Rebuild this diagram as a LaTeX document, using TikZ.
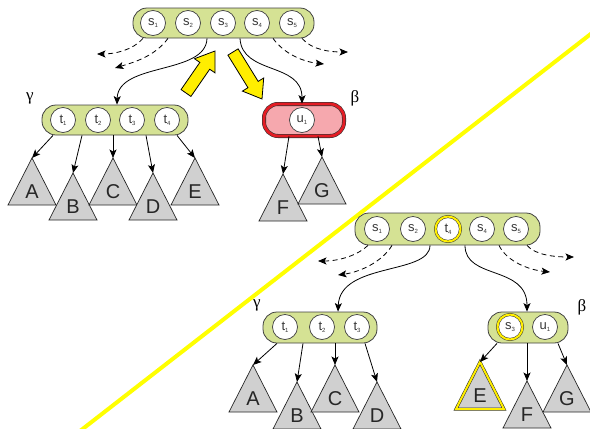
\documentclass[tikz,border=0pt]{standalone}
\usepackage{fontspec}
\setmainfont{Liberation Sans}
\newfontfamily\grkfont{Liberation Serif}
\usetikzlibrary{calc,arrows.meta}
\definecolor{boxgreen}{RGB}{213,226,148}
\definecolor{boxpink}{RGB}{246,168,174}
\definecolor{boxred}{RGB}{228,28,36}
\definecolor{trigray}{RGB}{208,208,208}
\definecolor{ylw}{RGB}{255,238,0}
\definecolor{diagylw}{RGB}{255,255,0}
\definecolor{labgray}{RGB}{55,55,55}
\newcommand{\klab}[2]{{\fontsize{13}{13}\selectfont #1}\raisebox{-2.2pt}{\fontsize{6}{6}\selectfont #2}}
\newcommand{\mytri}[5][trishape]{%
  \coordinate (#2) at (#3,#4);
  \draw[#1] (#2) -- ++(-24,47) -- ++(48,0) -- cycle;
  \node[trilab] (#2l) at ($(#2)+(0,34)$) {#5};
}
\tikzset{
  gbox/.style={rectangle, rounded corners=14pt, draw=black!75, line width=0.8pt, fill=boxgreen, inner sep=0pt},
  pbox/.style={rectangle, rounded corners=14pt, draw=black!80, line width=0.6pt, double=boxred, double distance=2.8pt, fill=boxpink, inner sep=0pt},
  kcirc/.style={circle, draw=black!75, line width=0.7pt, fill=white, minimum size=25pt, inner sep=0pt, text=labgray},
  hkcirc/.style={kcirc, draw=black!80, line width=0.5pt, double=ylw, double distance=2pt},
  trishape/.style={draw=black!85, line width=0.7pt, fill=trigray, line join=miter},
  hitrishape/.style={trishape, line width=0.5pt, double=ylw, double distance=2pt},
  trilab/.style={font=\fontsize{20}{20}\selectfont, text=black!85, inner sep=0pt},
  conn/.style={line width=0.8pt, -{Stealth[length=8.5pt,width=7pt,inset=2pt]}},
  dconn/.style={conn, dash pattern=on 5pt off 3.5pt},
  greeklab/.style={font=\grkfont\fontsize{17}{17}\selectfont, inner sep=0pt},
  yarr/.style={fill=ylw, draw=black, line width=0.8pt, line join=miter},
}
\begin{document}
\begin{tikzpicture}[x=1pt,y=-1pt]
\useasboundingbox (0,0) rectangle (590,429);
% diagonal
\draw[diagylw, line width=4pt] (80,431) -- (592,33);

% ===== top (before) =====
\node[gbox, minimum width=181pt, minimum height=30pt] (top) at (223.5,23) {};
\node[kcirc] (ts1) at (153,23) {\klab{s}{1}};
\node[kcirc] (ts2) at (188,23) {\klab{s}{2}};
\node[kcirc] (ts3) at (223,23) {\klab{s}{3}};
\node[kcirc] (ts4) at (257,23) {\klab{s}{4}};
\node[kcirc] (ts5) at (292,23) {\klab{s}{5}};

\node[gbox, minimum width=146pt, minimum height=30pt] (tg) at (115,120) {};
\node[kcirc] (tt1) at (63,120) {\klab{t}{1}};
\node[kcirc] (tt2) at (98,120) {\klab{t}{2}};
\node[kcirc] (tt3) at (132,120) {\klab{t}{3}};
\node[kcirc] (tt4) at (167,120) {\klab{t}{4}};
\node[greeklab] (tgl) at (30,98) {γ};

\node[pbox, minimum width=80pt, minimum height=32pt] (tb) at (304,120) {};
\node[kcirc] (tu1) at (302,120) {\klab{u}{1}};
\node[greeklab] (tbl) at (355,98) {β};

\mytri{tA}{32}{158}{A}
\mytri{tB}{73}{173}{B}
\mytri{tC}{113}{158}{C}
\mytri{tD}{153}{173}{D}
\mytri{tE}{195}{158}{E}
\mytri{tF}{283}{174}{F}
\mytri{tG}{322}{157}{G}

\draw[conn] (53,0 |- tg.south) -- (tA);
\draw[conn] (82,0 |- tg.south) -- (tB);
\draw[conn] (113,0 |- tg.south) -- (tC);
\draw[conn] (146,0 |- tg.south) -- (tD);
\draw[conn] (177,0 |- tg.south) -- (tE);
\draw[conn] (289,0 |- tb.south) -- (tF);
\draw[conn] (318,0 |- tb.south) -- (tG);

\draw[conn] (207,0 |- top.south) .. controls (206,75) and (118,62) .. (117,0 |- tg.north);
\draw[conn] (240,0 |- top.south) .. controls (242,75) and (302,62) .. (302,0 |- tb.north);
\draw[dconn] (143,0 |- top.south) .. controls (133,50) and (115,54) .. (97,54);
\draw[dconn] (168,0 |- top.south) .. controls (155,56) and (135,62) .. (115,68);
\draw[dconn] (273,0 |- top.south) .. controls (285,55) and (305,62) .. (324,64);
\draw[dconn] (302,0 |- top.south) .. controls (312,50) and (330,52) .. (348,52);

% yellow block arrows
\coordinate (uaT) at (186,93); \coordinate (uaP) at (215,51);
\coordinate (uaH) at ($(uaP)!18pt!(uaT)$);
\draw[yarr] ($(uaT)!6pt!90:(uaP)$) -- ($(uaH)!6pt!90:(uaP)$) -- ($(uaH)!12.5pt!90:(uaP)$) -- (uaP)
  -- ($(uaH)!12.5pt!-90:(uaP)$) -- ($(uaH)!6pt!-90:(uaP)$) -- ($(uaT)!6pt!-90:(uaP)$) -- cycle;
\coordinate (daT) at (233,52); \coordinate (daP) at (262,99);
\coordinate (daH) at ($(daP)!17pt!(daT)$);
\draw[yarr] ($(daT)!6pt!90:(daP)$) -- ($(daH)!6pt!90:(daP)$) -- ($(daH)!12.5pt!90:(daP)$) -- (daP)
  -- ($(daH)!12.5pt!-90:(daP)$) -- ($(daH)!6pt!-90:(daP)$) -- ($(daT)!6pt!-90:(daP)$) -- cycle;

% ===== bottom (after) =====
\node[gbox, minimum width=185pt, minimum height=32pt] (bt) at (447.5,229) {};
\node[kcirc] (bs1) at (377,229) {\klab{s}{1}};
\node[kcirc] (bs2) at (413,229) {\klab{s}{2}};
\node[hkcirc] (bt4) at (448,229) {\klab{t}{4}};
\node[kcirc] (bs4) at (482,229) {\klab{s}{4}};
\node[kcirc] (bs5) at (516,229) {\klab{s}{5}};

\node[gbox, minimum width=114pt, minimum height=31pt] (bg) at (320,327.5) {};
\node[kcirc] (bt1) at (285,327) {\klab{t}{1}};
\node[kcirc] (bt2) at (322,327) {\klab{t}{2}};
\node[kcirc] (bt3) at (357,327) {\klab{t}{3}};
\node[greeklab] (bgl) at (257,305) {γ};

\node[gbox, minimum width=80pt, minimum height=31pt] (bb) at (528,327.5) {};
\node[hkcirc] (bs3) at (510,327) {\klab{s}{3}};
\node[kcirc] (bu1) at (545,327) {\klab{u}{1}};
\node[greeklab] (bbl) at (582,307) {β};

\mytri{bA}{253}{365}{A}
\mytri{bB}{297}{382}{B}
\mytri{bC}{335}{365}{C}
\mytri{bD}{377}{382}{D}
\mytri[hitrishape]{bE}{480}{362}{E}
\mytri{bF}{527}{381}{F}
\mytri{bG}{567}{365}{G}

\draw[conn] (277,0 |- bg.south) -- (bA);
\draw[conn] (303,0 |- bg.south) -- (bB);
\draw[conn] (335,0 |- bg.south) -- (bC);
\draw[conn] (365,0 |- bg.south) -- (bD);
\draw[conn] (497,0 |- bb.south) -- (bE);
\draw[conn] (527,0 |- bb.south) -- (bF);
\draw[conn] (558,0 |- bb.south) -- (bG);

\draw[conn] (430,0 |- bt.south) .. controls (430,275) and (340,262) .. (338,0 |- bg.north);
\draw[conn] (465,0 |- bt.south) .. controls (465,280) and (527,265) .. (527,0 |- bb.north);
\draw[dconn] (368,0 |- bt.south) .. controls (358,255) and (340,261) .. (318,261);
\draw[dconn] (392,0 |- bt.south) .. controls (382,262) and (360,272) .. (338,275);
\draw[dconn] (499,0 |- bt.south) .. controls (507,262) and (530,270) .. (550,272);
\draw[dconn] (527,0 |- bt.south) .. controls (535,255) and (555,257) .. (574,257);
\end{tikzpicture}
\end{document}
